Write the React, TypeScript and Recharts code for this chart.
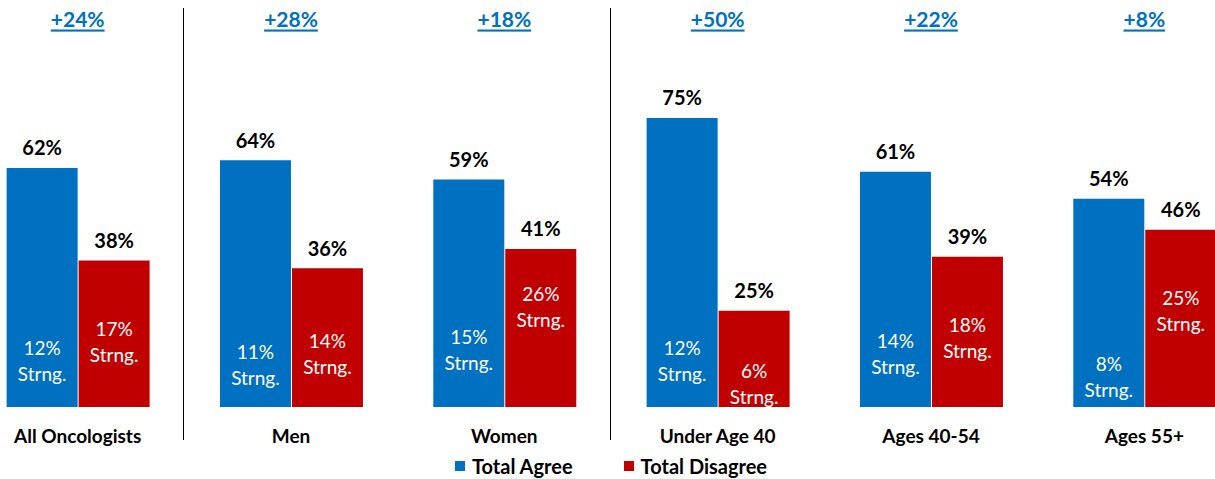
import { BarChart, Bar, XAxis, YAxis, Legend, LabelList } from "recharts";

const categories = ["All Oncologists", "Men", "Women", "Under Age 40", "Ages 40-54", "Ages 55+"];
const totalAgree = [62, 64, 59, 75, 61, 54];
const totalDisagree = [38, 36, 41, 25, 39, 46];
const strongAgree = [12, 11, 15, 12, 14, 8];
const strongDisagree = [17, 14, 26, 6, 18, 25];
// groups that get a divider line on their left side
const dividersBefore = [1, 3];

const BLUE = "#0070C0";
const RED = "#C00000";
const FONT = "Lato, 'Open Sans', sans-serif";

const data = categories.map((name, i) => ({
  name,
  agree: totalAgree[i],
  disagree: totalDisagree[i],
  diff: totalAgree[i] - totalDisagree[i],
}));

function CategoryTick(props: any) {
  const { x, y, payload, index } = props;
  const half = payload?.offset ?? 106.67;
  const d = data[index];
  // snap the divider to the pixel grid so it stays crisp
  const lx = Math.round(x - half) - 0.5;
  return (
    <g>
      <text
        x={x}
        y={y + 20}
        textAnchor="middle"
        dominantBaseline="central"
        fontFamily={FONT}
        fontWeight={700}
        fontSize={19}
        fill="#000"
      >
        {payload.value}
      </text>
      {/* net difference label at the top */}
      <text
        x={x}
        y={18}
        textAnchor="middle"
        dominantBaseline="central"
        fontFamily={FONT}
        fontWeight={700}
        fontSize={21}
        fill={BLUE}
        style={{ textDecoration: "underline" }}
      >
        {`+${d.diff}%`}
      </text>
      {dividersBefore.includes(index) && (
        <line x1={lx} x2={lx} y1={8} y2={440} stroke="#000" strokeWidth={1} />
      )}
    </g>
  );
}

function makeLabel(strong: number[]) {
  return (props: any) => {
    const { x, y, width, height, index } = props;
    const total = index != null ? data[index] : null;
    if (!total) return null;
    const cx = x + width / 2;
    const value = strong === strongAgree ? total.agree : total.disagree;
    const base = y + height;
    const sy = base - (height * strong[index]) / value;
    return (
      <g>
        <text
          x={cx}
          y={y - 20.5}
          textAnchor="middle"
          dominantBaseline="central"
          fontFamily={FONT}
          fontWeight={700}
          fontSize={20}
          fill="#000"
        >
          {`${value}%`}
        </text>
        <text
          x={cx}
          y={sy - 13}
          textAnchor="middle"
          dominantBaseline="central"
          fontFamily={FONT}
          fontSize={19}
          fill="#fff"
        >
          {`${strong[index]}%`}
        </text>
        <text
          x={cx}
          y={sy + 13}
          textAnchor="middle"
          dominantBaseline="central"
          fontFamily={FONT}
          fontSize={19}
          fill="#fff"
        >
          Strng.
        </text>
      </g>
    );
  };
}

function LegendContent() {
  const items = [
    { label: "Total Agree", color: BLUE },
    { label: "Total Disagree", color: RED },
  ];
  return (
    <div
      style={{
        display: "flex",
        justifyContent: "center",
        gap: 51,
        height: 22,
        alignItems: "center",
        fontFamily: FONT,
        fontWeight: 700,
        fontSize: 20,
        color: "#000",
      }}
    >
      {items.map((it) => (
        <div key={it.label} style={{ display: "flex", alignItems: "center", gap: 7 }}>
          <span style={{ width: 10, height: 10, background: it.color, display: "inline-block" }} />
          <span>{it.label}</span>
        </div>
      ))}
    </div>
  );
}

export default function App() {
  return (
    <div
      style={{
        position: "fixed",
        left: 0,
        top: 0,
        width: 1215,
        height: 479,
        overflow: "hidden",
        background: "#fff",
      }}
    >
      <div style={{ position: "absolute", left: -29, top: 0 }}>
        <BarChart
          width={1280}
          height={479}
          data={data}
          margin={{ top: 21.5, right: 0, left: 0, bottom: 2 }}
          barGap={1}
          barCategoryGap="16.7%"
        >
          <XAxis
            dataKey="name"
            axisLine={false}
            tickLine={false}
            height={48}
            interval={0}
            tick={(p: any) => <CategoryTick {...p} />}
          />
          <YAxis hide domain={[0, 100]} />
          <Legend verticalAlign="bottom" content={() => <LegendContent />} wrapperStyle={{ height: 22 }} />
          <Bar dataKey="agree" name="Total Agree" fill={BLUE} isAnimationActive={false}>
            <LabelList dataKey="agree" content={makeLabel(strongAgree)} />
          </Bar>
          <Bar dataKey="disagree" name="Total Disagree" fill={RED} isAnimationActive={false}>
            <LabelList dataKey="disagree" content={makeLabel(strongDisagree)} />
          </Bar>
        </BarChart>
      </div>
    </div>
  );
}
